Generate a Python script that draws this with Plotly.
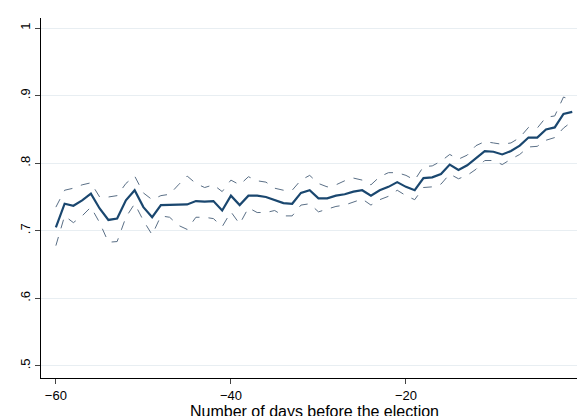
import plotly.graph_objects as go

# --- DATA ---
days = list(range(-60, 0))
share = [0.705, 0.740, 0.737, 0.745, 0.755, 0.733, 0.716, 0.718, 0.745, 0.760,
         0.735, 0.720, 0.738, 0.738, 0.738, 0.739, 0.744, 0.743, 0.744, 0.730,
         0.752, 0.738, 0.752, 0.752, 0.750, 0.746, 0.741, 0.740, 0.756, 0.760,
         0.748, 0.748, 0.752, 0.754, 0.758, 0.760, 0.752, 0.760, 0.765, 0.772,
         0.765, 0.760, 0.778, 0.779, 0.784, 0.798, 0.790, 0.797, 0.808, 0.818,
         0.817, 0.813, 0.818, 0.826, 0.838, 0.838, 0.850, 0.853, 0.873, 0.876]
upper = [0.735, 0.760, 0.763, 0.768, 0.771, 0.750, 0.750, 0.752, 0.770, 0.781,
         0.756, 0.746, 0.752, 0.754, 0.768, 0.781, 0.770, 0.764, 0.768, 0.758,
         0.775, 0.768, 0.780, 0.774, 0.772, 0.763, 0.760, 0.760, 0.775, 0.782,
         0.770, 0.765, 0.768, 0.774, 0.778, 0.775, 0.768, 0.780, 0.786, 0.786,
         0.782, 0.775, 0.795, 0.796, 0.803, 0.813, 0.806, 0.812, 0.826, 0.832,
         0.830, 0.828, 0.830, 0.838, 0.853, 0.852, 0.868, 0.870, 0.898, 0.893]
lower = [0.678, 0.722, 0.712, 0.722, 0.735, 0.712, 0.683, 0.684, 0.720, 0.740,
         0.715, 0.694, 0.722, 0.720, 0.708, 0.702, 0.720, 0.720, 0.718, 0.706,
         0.728, 0.710, 0.734, 0.727, 0.727, 0.730, 0.722, 0.722, 0.738, 0.740,
         0.728, 0.732, 0.736, 0.738, 0.742, 0.747, 0.738, 0.746, 0.751, 0.760,
         0.752, 0.746, 0.764, 0.765, 0.769, 0.784, 0.777, 0.782, 0.791, 0.804,
         0.804, 0.798, 0.806, 0.813, 0.824, 0.825, 0.834, 0.838, 0.852, 0.862]

y_ticks = [0.5, 0.6, 0.7, 0.8, 0.9, 1.0]
y_labels = [".5", ".6", ".7", ".8", ".9", "1"]
x_ticks = [-60, -40, -20, 0]

NAVY = "#1a476f"

fig = go.Figure()
for band in (upper, lower):
    fig.add_trace(go.Scatter(x=days, y=band, mode="lines",
                             line=dict(color="#5a6f86", width=1, dash="dash")))
fig.add_trace(go.Scatter(x=days, y=share, mode="lines",
                         line=dict(color=NAVY, width=2.2)))

fig.update_layout(
    width=585, height=416,
    margin=dict(l=33, r=5, t=10, b=46),
    paper_bgcolor="white", plot_bgcolor="white",
    showlegend=False,
    font=dict(family="Liberation Sans, Arial", size=13, color="black"),
)
fig.update_xaxes(range=[-61.7, 0.8], tickvals=x_ticks, showgrid=False,
                 ticks="outside", ticklen=5, showline=True, linecolor="black",
                 zeroline=False, title=dict(text="Number of days before the election",
                                            standoff=4))
fig.update_yaxes(range=[0.482, 1.015], tickvals=y_ticks, ticktext=y_labels,
                 tickangle=-90, showgrid=True, gridcolor="#e8eef2",
                 ticks="outside", ticklen=5, showline=True, linecolor="black",
                 zeroline=False)

fig.write_html("out.html")
